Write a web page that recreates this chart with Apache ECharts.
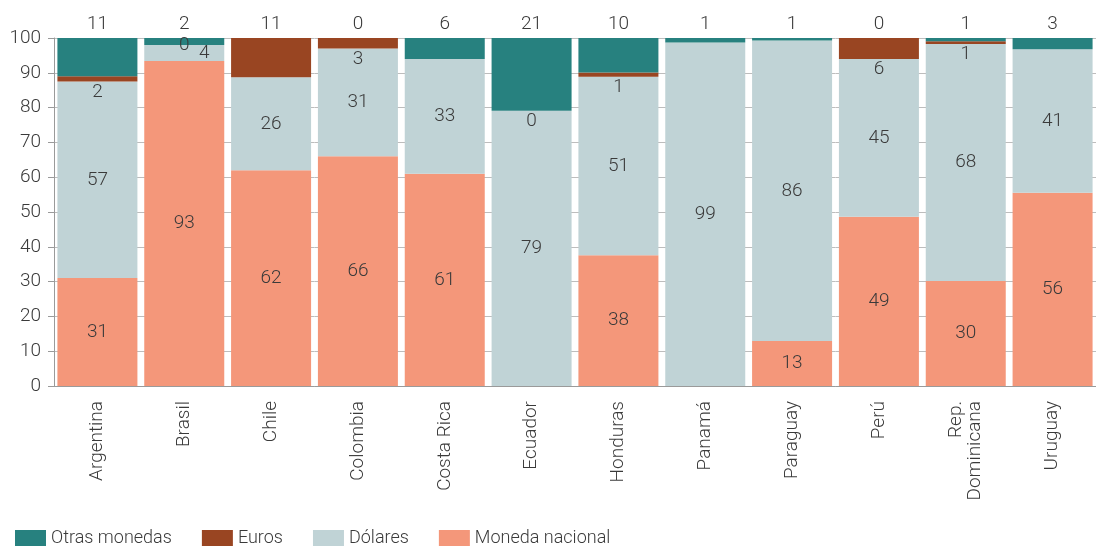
<!DOCTYPE html>
<html style="height: 100%">
<head>
    <meta charset="utf-8">
    <script src="https://cdn.jsdelivr.net/npm/echarts@6/dist/echarts.min.js"></script>
</head>
<body style="height: 100%; margin: 0; background: #fff">
    <div id="chart" style="width: 1096px; height: 548px"></div>
    <script type="text/javascript">
        var paises = ['Argentina', 'Brasil', 'Chile', 'Colombia', 'Costa Rica', 'Ecuador', 'Honduras',
            'Panamá', 'Paraguay', 'Perú', 'Rep.\nDominicana', 'Uruguay'];

        // shares as drawn (percent of total)
        var monedaNacional = [31, 93.4, 62, 66, 61, 0, 37.6, 0, 12.9, 48.6, 30.2, 55.5];
        var dolares = [56.5, 4.6, 26.7, 31, 33, 79.1, 51.3, 98.7, 86.4, 45.4, 68.1, 41.3];
        var euros = [1.5, 0, null, 3, null, 0, 1.2, null, null, 6, 0.8, null];
        var otras = [11, 2, 11.3, 0, 6, 20.9, 9.9, 1.3, 0.7, 0, 0.9, 3.2];

        // numbers printed on the chart
        var monedaNacionalTxt = [31, 93, 62, 66, 61, '', 38, '', 13, 49, 30, 56];
        var dolaresTxt = [57, 4, 26, 31, 33, 79, 51, 99, 86, 45, 68, 41];
        var eurosTxt = [2, 0, '', 3, '', 0, 1, '', '', 6, 1, ''];
        var otrasTxt = [11, 2, 11, 0, 6, 21, 10, 1, 1, 0, 1, 3];

        var yTicks = [0, 10, 20, 30, 40, 50, 60, 70, 80, 90, 100];

        var font = "Roboto, 'Noto Sans', sans-serif";
        var fs = 19;
        var txtColor = '#3a3a3a';
        var colTeal = '#27817f', colBrown = '#994522', colLight = '#c0d3d6', colSalmon = '#f4977a';

        function labelFrom(arr, pos, dist) {
            return {
                show: true, position: pos, distance: dist,
                fontFamily: font, fontSize: fs, fontWeight: 300, color: txtColor,
                formatter: function (p) { return String(arr[p.dataIndex]); }
            };
        }

        var dolData = dolares.map(function (v, i) {
            if (paises[i] === 'Brasil') return { value: v, label: { offset: [20, 0] } };
            return v;
        });
        var eurData = euros.map(function (v, i) {
            if (paises[i] === 'Brasil') return { value: v, label: { position: 'inside' } };
            return v;
        });
        // Chile's top block is drawn in the euro colour in the original
        var otrData = otras.map(function (v, i) {
            if (paises[i] === 'Chile') return { value: v, itemStyle: { color: colBrown } };
            return v;
        });

        var myChart = echarts.init(document.getElementById('chart'));
        myChart.setOption({
            animation: false,
            textStyle: { fontFamily: font },
            grid: { left: 54, top: 38, height: 348, width: 1056 },
            legend: {
                data: ['Otras monedas', 'Euros', 'Dólares', 'Moneda nacional'],
                left: 15, top: 529, padding: 0,
                icon: 'rect', itemWidth: 31, itemHeight: 16, itemGap: 30,
                textStyle: { fontFamily: font, fontSize: 18, fontWeight: 300, color: txtColor }
            },
            xAxis: {
                type: 'category',
                data: paises,
                axisLine: { lineStyle: { color: '#9a9a9a' } },
                axisTick: { length: 6, lineStyle: { color: '#9a9a9a' } },
                axisLabel: { rotate: 90, margin: 15, fontFamily: font, fontSize: fs, fontWeight: 300, color: txtColor, lineHeight: 19 }
            },
            yAxis: {
                type: 'value',
                min: yTicks[0], max: yTicks[yTicks.length - 1], interval: 10,
                axisLine: { show: true, lineStyle: { color: '#9a9a9a' } },
                axisTick: { show: true, length: 6, lineStyle: { color: '#9a9a9a' } },
                splitLine: { lineStyle: { color: '#bdbdbd' } },
                axisLabel: { margin: 13, fontFamily: font, fontSize: fs, fontWeight: 300, color: txtColor }
            },
            series: [
                {
                    name: 'Moneda nacional', type: 'bar', stack: 'total', barWidth: 80,
                    itemStyle: { color: colSalmon },
                    label: labelFrom(monedaNacionalTxt, 'inside', 0),
                    data: monedaNacional
                },
                {
                    name: 'Dólares', type: 'bar', stack: 'total', barWidth: 80,
                    itemStyle: { color: colLight },
                    label: labelFrom(dolaresTxt, 'inside', 0),
                    data: dolData
                },
                {
                    name: 'Euros', type: 'bar', stack: 'total', barWidth: 80,
                    itemStyle: { color: colBrown },
                    label: labelFrom(eurosTxt, 'bottom', 1),
                    data: eurData
                },
                {
                    name: 'Otras monedas', type: 'bar', stack: 'total', barWidth: 80,
                    itemStyle: { color: colTeal },
                    label: labelFrom(otrasTxt, 'top', 4),
                    data: otrData
                }
            ]
        });
    </script>
</body>
</html>
